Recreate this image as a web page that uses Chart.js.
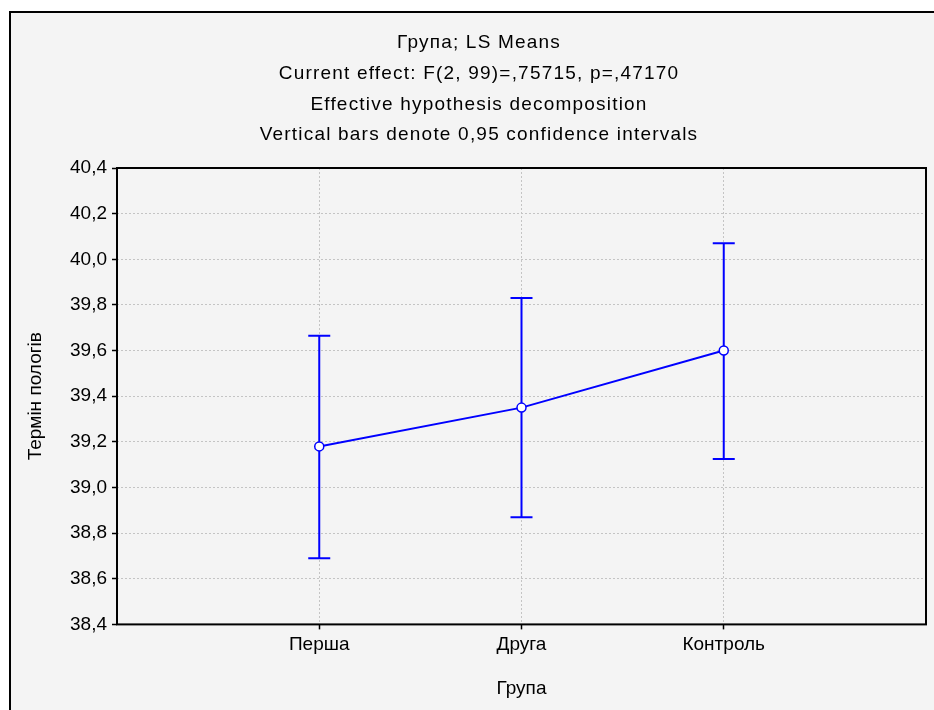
<!DOCTYPE html>
<html>
<head>
<meta charset="utf-8">
<script src="https://cdn.jsdelivr.net/npm/chart.js@4"></script>
<style>
  html, body { margin: 0; padding: 0; background: #fff; }
  #wrap { position: relative; width: 934px; height: 710px; overflow: hidden; }
  #frame {
    position: absolute; left: 9px; top: 11px; width: 950px; height: 730px;
    border: 2px solid #000; background: #f4f4f4;
  }
  #chart { position: absolute; left: 0; top: 0; }
</style>
</head>
<body>
<div id="wrap">
  <div id="frame"></div>
  <canvas id="chart" width="934" height="710"></canvas>
</div>
<script>
// Група; LS Means with 0,95 confidence intervals
const groups = ['Перша', 'Друга', 'Контроль'];
const groupPos = [1, 2, 3];
const means = [39.18, 39.35, 39.60];
const lower = [38.69, 38.87, 39.125];
const upper = [39.665, 39.83, 40.07];
const titleLines = [
    'Група; LS Means',
    'Current effect: F(2, 99)=,75715, p=,47170',
    'Effective hypothesis decomposition',
    'Vertical bars denote 0,95 confidence intervals'
];

const blue = 'rgb(0, 0, 255)';
const gridGray = '#c4c4c4';
const fontFamily = "'Liberation Sans', Arial, sans-serif";
const font = { family: fontFamily, size: 19 };

// error bars, drawn under the points
const errorBars = {
    id: 'errorBars',
    beforeDatasetsDraw(chart) {
        const ctx = chart.ctx;
        const xs = chart.scales.x, ys = chart.scales.y;
        ctx.save();
        ctx.strokeStyle = blue;
        ctx.lineWidth = 2;
        for (let i = 0; i < groupPos.length; i++) {
            const x = xs.getPixelForValue(groupPos[i]);
            const yl = ys.getPixelForValue(lower[i]);
            const yh = ys.getPixelForValue(upper[i]);
            ctx.beginPath();
            ctx.moveTo(x, yl); ctx.lineTo(x, yh);
            ctx.moveTo(x - 11, yl); ctx.lineTo(x + 11, yl);
            ctx.moveTo(x - 11, yh); ctx.lineTo(x + 11, yh);
            ctx.stroke();
        }
        ctx.restore();
    }
};

// black box around the plot area + the four header lines (slightly tracked, like the original)
const plotBox = {
    id: 'plotBox',
    afterDraw(chart) {
        const a = chart.chartArea, ctx = chart.ctx;
        ctx.save();
        ctx.strokeStyle = '#000';
        ctx.lineWidth = 2;
        ctx.strokeRect(a.left, a.top, a.right - a.left, a.bottom - a.top);

        ctx.fillStyle = '#000';
        ctx.font = '19px ' + fontFamily;
        ctx.letterSpacing = '1.2px';
        ctx.textAlign = 'center';
        ctx.textBaseline = 'middle';
        titleLines.forEach((t, i) => ctx.fillText(t, 479, 43 + i * 30.7));
        ctx.restore();
    }
};

new Chart(document.getElementById('chart'), {
    type: 'line',
    data: {
        datasets: [{
            data: groupPos.map((x, i) => ({ x: x, y: means[i] })),
            borderColor: blue,
            borderWidth: 2,
            tension: 0,
            pointRadius: 4.5,
            pointBorderWidth: 1.5,
            pointBackgroundColor: '#fff',
            pointBorderColor: blue
        }]
    },
    options: {
        responsive: false,
        animation: false,
        devicePixelRatio: 1,
        layout: { padding: { left: 24, right: 8, top: 168, bottom: 0 } },
        plugins: {
            legend: { display: false },
            tooltip: { enabled: false },
            title: { display: false }
        },
        scales: {
            x: {
                type: 'linear',
                min: 0,
                max: 4,
                afterBuildTicks: s => { s.ticks = groupPos.map(v => ({ value: v })); },
                ticks: {
                    color: '#000',
                    font: font,
                    padding: 4,
                    maxRotation: 0,
                    callback: v => groups[groupPos.indexOf(v)]
                },
                grid: {
                    color: gridGray,
                    tickColor: '#000',
                    tickLength: 5,
                    tickWidth: 1.5
                },
                border: { display: false, dash: [2, 2] },
                title: {
                    display: true,
                    text: 'Група',
                    color: '#000',
                    font: font,
                    padding: { top: 17, bottom: 10 }
                }
            },
            y: {
                min: 38.4,
                max: 40.4,
                ticks: {
                    stepSize: 0.2,
                    color: '#000',
                    font: font,
                    padding: 5,
                    callback: v => v.toFixed(1).replace('.', ',')
                },
                grid: {
                    color: gridGray,
                    tickColor: '#000',
                    tickLength: 5,
                    tickWidth: 1.5
                },
                border: { display: false, dash: [2, 2] },
                title: {
                    display: true,
                    text: 'Термін пологів',
                    color: '#000',
                    font: font,
                    padding: { top: 0, bottom: 4 }
                },
                afterFit: s => { s.width = 93; }
            }
        }
    },
    plugins: [errorBars, plotBox]
});
</script>
</body>
</html>
